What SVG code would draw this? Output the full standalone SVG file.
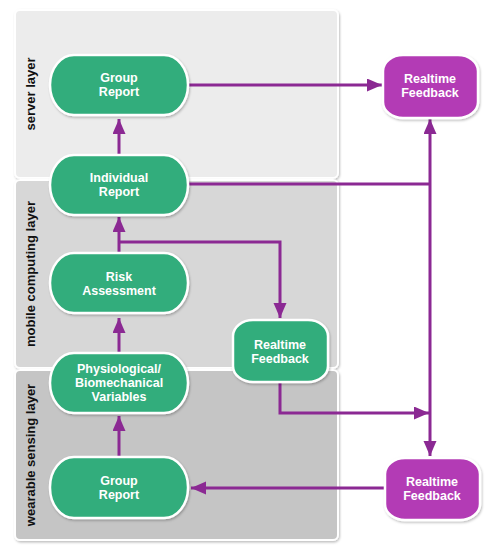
<svg xmlns="http://www.w3.org/2000/svg" width="489" height="550" viewBox="0 0 489 550">
<style>
.layer{stroke:#ffffff;stroke-width:2}
.lbl{font-family:"Liberation Sans",Arial,sans-serif;font-weight:bold;font-size:13px;fill:#111;text-anchor:middle}
.g{fill:#31ad7b;stroke:#ffffff;stroke-width:2.5}
.p{fill:#b33bb5;stroke:#ffffff;stroke-width:2.5}
.t{font-family:"Liberation Sans",Arial,sans-serif;font-weight:bold;font-size:12.5px;fill:#ffffff;text-anchor:middle}
.c{fill:none;stroke:#8b2993;stroke-width:3}
</style>
<defs>
<filter id="sh" x="-10%" y="-10%" width="120%" height="120%">
<feDropShadow dx="1" dy="1.5" stdDeviation="1.2" flood-color="#000" flood-opacity="0.25"/>
</filter>
<marker id="ah" markerUnits="userSpaceOnUse" markerWidth="16" markerHeight="14" refX="15" refY="6.5" orient="auto">
<path d="M0,0 L15,6.5 L0,13 z" fill="#8b2993"/>
</marker>
</defs>
<rect width="489" height="550" fill="#ffffff"/>
<g id="layers">
<g id="server-layer">
<rect class="layer" x="15" y="10" width="323" height="168" rx="5" fill="#ececec" filter="url(#sh)"/>
<text class="lbl" transform="translate(35,94) rotate(-90)">server layer</text>
</g>
<g id="mobile-layer">
<rect class="layer" x="15" y="180" width="323" height="188" rx="5" fill="#d7d7d7" filter="url(#sh)"/>
<text class="lbl" transform="translate(35,274) rotate(-90)">mobile computing layer</text>
</g>
<g id="wearable-layer">
<rect class="layer" x="15" y="370" width="323" height="170" rx="5" fill="#c5c5c5" filter="url(#sh)"/>
<text class="lbl" transform="translate(35,455) rotate(-90)">wearable sensing layer</text>
</g>
</g>
<g id="connectors">
<line class="c" x1="119" y1="155" x2="119" y2="119" marker-end="url(#ah)"/>
<line class="c" x1="188" y1="85" x2="382" y2="85" marker-end="url(#ah)"/>
<polyline class="c" points="188,184 430,184"/>
<line class="c" x1="430" y1="184" x2="430" y2="119" marker-end="url(#ah)"/>
<line class="c" x1="430" y1="184" x2="430" y2="456" marker-end="url(#ah)"/>
<line class="c" x1="119" y1="253" x2="119" y2="217" marker-end="url(#ah)"/>
<polyline class="c" points="119,242 280,242 280,318" marker-end="url(#ah)"/>
<line class="c" x1="119" y1="353" x2="119" y2="318" marker-end="url(#ah)"/>
<line class="c" x1="119" y1="457" x2="119" y2="416" marker-end="url(#ah)"/>
<polyline class="c" points="280,382 280,413 429,413" marker-end="url(#ah)"/>
<line class="c" x1="385" y1="488" x2="191" y2="488" marker-end="url(#ah)"/>
</g>
<g id="group-report-server">
<rect class="g" x="50" y="55" width="138" height="60" rx="24" ry="30" filter="url(#sh)"/>
<text class="t" x="119" y="82">Group</text>
<text class="t" x="119" y="96">Report</text>
</g>
<g id="individual-report">
<rect class="g" x="50" y="155" width="138" height="60" rx="24" ry="30" filter="url(#sh)"/>
<text class="t" x="119" y="182">Individual</text>
<text class="t" x="119" y="196">Report</text>
</g>
<g id="risk-assessment">
<rect class="g" x="50" y="253" width="138" height="60" rx="24" ry="30" filter="url(#sh)"/>
<text class="t" x="119" y="281">Risk</text>
<text class="t" x="119" y="295">Assessment</text>
</g>
<g id="physiological-variables">
<rect class="g" x="50" y="353" width="138" height="60" rx="24" ry="30" filter="url(#sh)"/>
<text class="t" x="119" y="373">Physiological/</text>
<text class="t" x="119" y="387">Biomechanical</text>
<text class="t" x="119" y="401">Variables</text>
</g>
<g id="group-report-wearable">
<rect class="g" x="50" y="457" width="138" height="61" rx="24" ry="30" filter="url(#sh)"/>
<text class="t" x="119" y="485">Group</text>
<text class="t" x="119" y="499">Report</text>
</g>
<g id="realtime-feedback-mobile">
<rect class="g" x="233" y="320" width="95" height="62" rx="20" ry="16" filter="url(#sh)"/>
<text class="t" x="280" y="349">Realtime</text>
<text class="t" x="280" y="363">Feedback</text>
</g>
<g id="realtime-feedback-top">
<rect class="p" x="383" y="55" width="95" height="63" rx="20" ry="16" filter="url(#sh)"/>
<text class="t" x="430" y="83">Realtime</text>
<text class="t" x="430" y="97">Feedback</text>
</g>
<g id="realtime-feedback-bottom">
<rect class="p" x="385" y="458" width="95" height="62" rx="20" ry="16" filter="url(#sh)"/>
<text class="t" x="432" y="486">Realtime</text>
<text class="t" x="432" y="500">Feedback</text>
</g>
</svg>
